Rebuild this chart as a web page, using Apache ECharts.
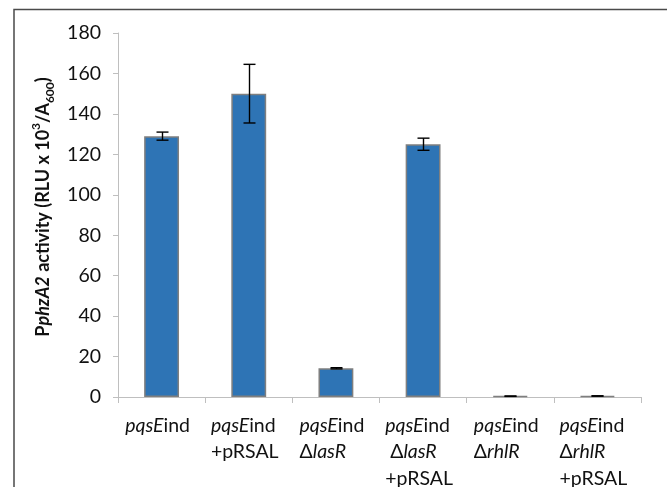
<!DOCTYPE html>
<html>
<head>
<meta charset="utf-8">
<script src="https://cdn.jsdelivr.net/npm/echarts@6/dist/echarts.min.js"></script>
<style>
html,body{margin:0;padding:0;background:#fff;}
#chart{width:667px;height:487px;}
</style>
</head>
<body>
<div id="chart"></div>
<script>
var categories = [
  '{i|pqsE}{n|ind}',
  '{i|pqsE}{n|ind}\n{n|+pRSAL}',
  '{i|pqsE}{n|ind}\n{n|Δ}{i|lasR}',
  '{i|pqsE}{n|ind}\n{n| Δ}{i|lasR}\n{n|+pRSAL}',
  '{i|pqsE}{n|ind}\n{n|Δ}{i|rhlR}',
  '{i|pqsE}{n|ind}\n{n|Δ}{i|rhlR}\n{n|+pRSAL}'
];
var values = [129, 150, 14.2, 125, 0.4, 0.5];
var errors = [2, 14.5, 0.3, 3, 0.1, 0.1];
var yTicks = [0, 20, 40, 60, 80, 100, 120, 140, 160, 180];

var FONT = 'Lato';
var FS = 19.5;
var LH = 26.5;
var NFS = 18;
var chart = echarts.init(document.getElementById('chart'), null, {renderer: 'canvas'});

var errData = values.map(function (v, i) { return [i, v, errors[i]]; });

chart.setOption({
  animation: false,
  backgroundColor: '#ffffff',
  graphic: [{
    type: 'rect',
    shape: {x: 14, y: 9.5, width: 700, height: 600},
    style: {fill: 'none', stroke: '#4a4a4a', lineWidth: 1.5},
    silent: true
  }],
  grid: {left: 118, right: 26, top: 33, bottom: 90, containLabel: false, outerBoundsMode: 'none'},
  xAxis: {
    type: 'category',
    data: categories,
    axisLine: {show: true, lineStyle: {color: '#bfbfbf', width: 1}},
    axisTick: {show: true, alignWithLabel: false, length: 6, lineStyle: {color: '#bfbfbf'}},
    axisLabel: {
      interval: 0,
      margin: 15,
      color: '#111',
      fontFamily: FONT,
      fontSize: FS,
      lineHeight: LH,
      padding: [0, 8, 0, 0],
      rich: {
        i: {fontStyle: 'italic', fontFamily: FONT, fontSize: FS, color: '#111', lineHeight: LH, align: 'left'},
        n: {fontFamily: FONT, fontSize: FS, color: '#111', lineHeight: LH, align: 'left'}
      }
    }
  },
  yAxis: {
    type: 'value',
    min: 0,
    max: 180,
    interval: 20,
    axisLine: {show: true, lineStyle: {color: '#bfbfbf', width: 1}},
    axisTick: {show: true, length: 5, lineStyle: {color: '#bfbfbf'}},
    splitLine: {show: false},
    axisLabel: {
      margin: 17,
      color: '#111',
      fontFamily: FONT,
      fontSize: FS,
      formatter: function (v) { return yTicks.indexOf(v) >= 0 ? String(v) : ''; }
    },
    name: '{b|P}{bi|phzA2}{b| activity (RLU x 10}{sup|3}{b|/A}{sub|600}{b|)}',
    nameLocation: 'middle',
    nameGap: 57,
    nameRotate: 90,
    nameTextStyle: {
      fontFamily: FONT,
      fontSize: NFS,
      color: '#111',
      padding: [0, 0, 0, 16],
      rich: {
        b: {fontFamily: FONT, fontWeight: 'bold', fontSize: NFS, color: '#111', lineHeight: 26},
        bi: {fontFamily: FONT, fontWeight: 'bold', fontStyle: 'italic', fontSize: NFS, color: '#111', lineHeight: 26},
        sup: {fontFamily: FONT, fontWeight: 'bold', fontSize: 12, color: '#111', verticalAlign: 'top', lineHeight: 26},
        sub: {fontFamily: FONT, fontWeight: 'bold', fontSize: 12, color: '#111', verticalAlign: 'bottom', lineHeight: 26}
      }
    }
  },
  series: [{
    type: 'bar',
    data: values,
    barWidth: '40%',
    itemStyle: {color: '#2e74b5', borderColor: '#7f7f7f', borderWidth: 1.5},
    z: 2
  }, {
    type: 'custom',
    data: errData,
    z: 5,
    renderItem: function (params, api) {
      var x = api.value(0), v = api.value(1), e = api.value(2);
      var top = api.coord([x, v + e]);
      var bot = api.coord([x, v - e]);
      var cx = Math.round(top[0]) + 0.5;
      var hw = 6;
      var st = {stroke: '#000', lineWidth: 1.4};
      return {
        type: 'group',
        children: [
          {type: 'line', shape: {x1: cx, y1: top[1], x2: cx, y2: bot[1]}, style: st},
          {type: 'line', shape: {x1: cx - hw, y1: top[1], x2: cx + hw, y2: top[1]}, style: st},
          {type: 'line', shape: {x1: cx - hw, y1: bot[1], x2: cx + hw, y2: bot[1]}, style: st}
        ]
      };
    }
  }]
});
</script>
</body>
</html>
